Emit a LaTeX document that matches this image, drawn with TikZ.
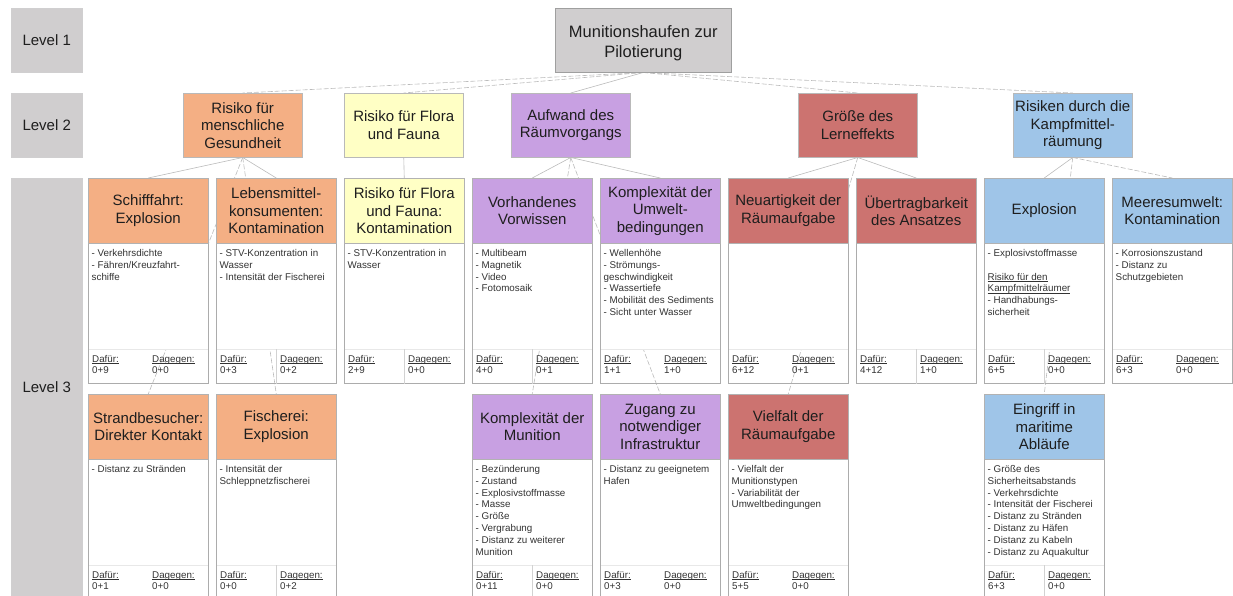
\documentclass[tikz,border=0pt]{standalone}
\usepackage{fontspec}
\setmainfont{Liberation Sans}
\usetikzlibrary{calc}
\definecolor{grayC}{HTML}{D0CECF}
\definecolor{orangeC}{HTML}{F4AF84}
\definecolor{yellowC}{HTML}{FFFFC5}
\definecolor{purpleC}{HTML}{C8A0E2}
\definecolor{redC}{HTML}{CC7370}
\definecolor{blueC}{HTML}{9FC5E8}
\definecolor{lineC}{HTML}{BBBBBB}
\definecolor{txtC}{HTML}{1E1E1E}
\definecolor{bodyC}{HTML}{333333}
\pgfdeclarelayer{background}
\pgfsetlayers{background,main}
\newcommand{\myul}[1]{{\setbox0\hbox{#1}\rlap{\rule[-1.4pt]{\wd0}{0.45pt}}\box0}}
\tikzset{
  lvl/.style={fill=grayC, draw=grayC!85!black!60!white, line width=0.4pt, minimum width=71pt, minimum height=64pt, anchor=north west, font=\fontsize{15}{17.5}\selectfont, text=txtC, inner sep=0pt},
  l1box/.style={fill=grayC, draw=gray!75, line width=0.5pt, minimum width=176pt, minimum height=64pt, anchor=north west, align=center, font=\fontsize{16.5}{19.7}\selectfont, text=txtC, inner sep=0pt},
  l2box/.style={draw=gray!55, line width=0.5pt, minimum width=119pt, minimum height=64pt, anchor=north west, align=center, font=\fontsize{15}{17.5}\selectfont, text=txtC, inner sep=0pt},
  hdr/.style={draw=gray!60, line width=0.5pt, minimum width=120pt, minimum height=65pt, anchor=north west, align=center, font=\fontsize{15}{17.5}\selectfont, text=txtC, inner sep=0pt},
  bodytxt/.style={anchor=north west, inner sep=0pt, align=left, font=\fontsize{9.8}{11.8}\selectfont, text=bodyC},
  vote/.style={anchor=base west, inner sep=0pt, font=\fontsize{9.8}{11.8}\selectfont, text=bodyC},
  conn/.style={draw=lineC, line width=0.6pt},
  connd/.style={conn, dash pattern=on 5pt off 2pt},
  cardline/.style={draw=gray!65, line width=0.7pt},
  sepline/.style={draw=gray!18, line width=0.6pt},
  divline/.style={draw=gray!35, line width=0.6pt},
}
% #1 name, #2 x, #3 y top, #4 colour, #5 header, #6 body, #7 dafuer, #8 dagegen
\newcommand{\mycard}[8]{%
  \node[hdr, fill=#4] (#1) at (#2,#3) {#5};
  \fill[white] (#1.south west) rectangle ++(120,105.5);
  \draw[sepline] ([yshift=-105.5pt]#1.south west) -- ++(120,0);
  \draw[cardline] (#1.south west) -- ++(0,140) -- ++(120,0) -- ++(0,-140);
  \node[bodytxt] (#1-b) at ([xshift=3.5pt,yshift=-4.5pt]#1.south west) {\strut #6};
  \node[vote] (#1-fl) at ([xshift=4pt,yshift=-119pt]#1.south west) {\myul{Dafür:}};
  \node[vote] (#1-fv) at ([xshift=4pt,yshift=-130pt]#1.south west) {#7};
  \node[vote] (#1-gl) at ([xshift=64pt,yshift=-119pt]#1.south west) {\myul{Dagegen:}};
  \node[vote] (#1-gv) at ([xshift=64pt,yshift=-130pt]#1.south west) {#8};
}
\newcommand{\mydiv}[1]{%
  \draw[divline] ([xshift=60pt,yshift=-105.5pt]#1.south west) -- ++(0,34.5);
}
\begin{document}
\begin{tikzpicture}[x=1pt,y=-1pt]
\useasboundingbox (0,0) rectangle (1233,596);
\clip (0,0) rectangle (1233,596);

% level labels
\node[lvl] (lv1) at (11,8) {Level 1};
\node[lvl] (lv2) at (11,93) {Level 2};
\node[lvl, minimum height=418pt] (lv3) at (11,178) {Level 3};

% level 1
\node[l1box] (top) at (555,8) {\raisebox{-3pt}[\height][\depth]{\begin{tabular}{@{}c@{}}Munitionshaufen zur\\Pilotierung\end{tabular}}};

% level 2
\node[l2box, fill=orangeC] (g1) at (183,93) {Risiko für\\menschliche\\Gesundheit};
\node[l2box, fill=yellowC] (g2) at (344,93) {Risiko für Flora\\und Fauna};
\node[l2box, fill=purpleC] (g3) at (511,93) {Aufwand des\\Räumvorgangs};
\node[l2box, fill=redC] (g4) at (798,93) {Größe des\\Lerneffekts};
\node[l2box, fill=blueC] (g5) at (1013,93) {Risiken durch die\\Kampfmittel-\\räumung};

% level 3, row 1
\mycard{schiff}{88}{178}{orangeC}{Schifffahrt:\\Explosion}{- Verkehrsdichte\\- Fähren/Kreuzfahrt-\\schiffe}{0+9}{0+0}
\mycard{lebens}{216}{178}{orangeC}{Lebensmittel-\\konsumenten:\\Kontamination}{- STV-Konzentration in\\Wasser\\- Intensität der Fischerei}{0+3}{0+2}
\mydiv{lebens}
\mycard{flora}{344}{178}{yellowC}{Risiko für Flora\\und Fauna:\\Kontamination}{- STV-Konzentration in\\Wasser}{2+9}{0+0}
\mydiv{flora}
\mycard{vorw}{472}{178}{purpleC}{Vorhandenes\\Vorwissen}{- Multibeam\\- Magnetik\\- Video\\- Fotomosaik}{4+0}{0+1}
\mydiv{vorw}
\mycard{umwelt}{600}{178}{purpleC}{Komplexität der\\Umwelt-\\bedingungen}{- Wellenhöhe\\- Strömungs-\\geschwindigkeit\\- Wassertiefe\\- Mobilität des Sediments\\- Sicht unter Wasser}{1+1}{1+0}
\mycard{neu}{728}{178}{redC}{Neuartigkeit der\\Räumaufgabe}{}{6+12}{0+1}
\mycard{uebert}{856}{178}{redC}{Übertragbarkeit\\des Ansatzes}{}{4+12}{1+0}
\mydiv{uebert}
\mycard{explo}{984}{178}{blueC}{Explosion}{- Explosivstoffmasse\\[11.8pt]\myul{Risiko für den}\\\myul{Kampfmittelräumer}\\- Handhabungs-\\sicherheit}{6+5}{0+0}
\mydiv{explo}
\mycard{meer}{1112}{178}{blueC}{Meeresumwelt:\\Kontamination}{- Korrosionszustand\\- Distanz zu\\Schutzgebieten}{6+3}{0+0}

% level 3, row 2
\mycard{strand}{88}{394}{orangeC}{Strandbesucher:\\Direkter Kontakt}{- Distanz zu Stränden}{0+1}{0+0}
\mycard{fisch}{216}{394}{orangeC}{Fischerei:\\Explosion}{- Intensität der\\Schleppnetzfischerei}{0+0}{0+2}
\mydiv{fisch}
\mycard{munition}{472}{394}{purpleC}{Komplexität der\\Munition}{- Bezünderung\\- Zustand\\- Explosivstoffmasse\\- Masse\\- Größe\\- Vergrabung\\- Distanz zu weiterer\\Munition}{0+11}{0+0}
\mydiv{munition}
\mycard{zugang}{600}{394}{purpleC}{Zugang zu\\notwendiger\\Infrastruktur}{- Distanz zu geeignetem\\Hafen}{0+3}{0+0}
\mycard{vielf}{728}{394}{redC}{Vielfalt der\\Räumaufgabe}{- Vielfalt der\\Munitionstypen\\- Variabilität der\\Umweltbedingungen}{5+5}{0+0}
\mycard{eingr}{984}{394}{blueC}{Eingriff in\\maritime\\Abläufe}{- Größe des\\Sicherheitsabstands\\- Verkehrsdichte\\- Intensität der Fischerei\\- Distanz zu Stränden\\- Distanz zu Häfen\\- Distanz zu Kabeln\\- Distanz zu Aquakultur}{6+3}{0+0}
\mydiv{eingr}

% connectors
\begin{pgfonlayer}{background}
\draw[connd] (top.south) -- (g1.north);
\draw[connd] (top.south) -- (g2.north);
\draw[conn]  (top.south) -- (g3.north);
\draw[connd] (top.south) -- (g4.north);
\draw[connd] (top.south) -- (g5.north);

\draw[conn]  (g1.south) -- (schiff.north);
\draw[conn]  (g1.south) -- (lebens.north);
\draw[connd] (g1.south) -- (strand.north);
\draw[connd] (g1.south) -- (fisch.north);

\draw[conn]  (g2.south) -- (flora.north);

\draw[conn]  (g3.south) -- (vorw.north);
\draw[conn]  (g3.south) -- (umwelt.north);
\draw[connd] (g3.south) -- (munition.north);
\draw[connd] (g3.south) -- (zugang.north);

\draw[conn]  (g4.south) -- (neu.north);
\draw[conn]  (g4.south) -- (uebert.north);
\draw[connd] (g4.south) -- (vielf.north);

\draw[conn]  (g5.south) -- (explo.north);
\draw[connd] (g5.south) -- (meer.north);
\draw[connd] (g5.south) -- (eingr.north);
\end{pgfonlayer}
\end{tikzpicture}
\end{document}
